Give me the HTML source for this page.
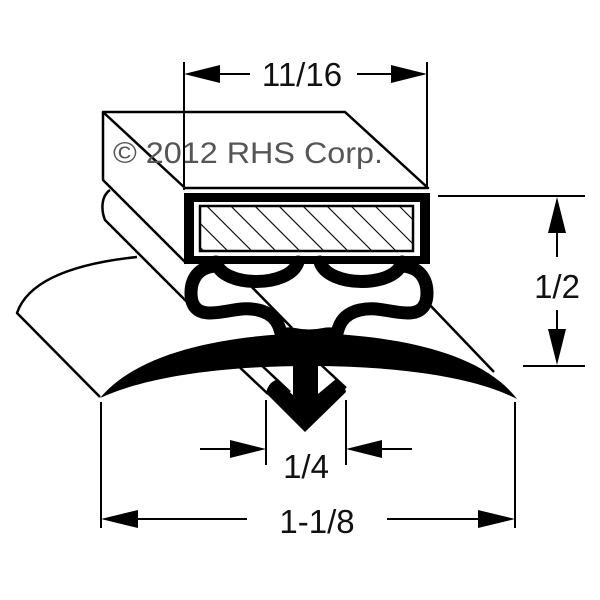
<!DOCTYPE html>
<html><head><style>html,body{margin:0;padding:0;background:#fff}svg{display:block}</style></head>
<body>
<svg width="600" height="600" viewBox="0 0 600 600" xmlns="http://www.w3.org/2000/svg" font-family="Liberation Sans, Arial, sans-serif">
<defs>
<pattern id="h" patternUnits="userSpaceOnUse" width="17" height="17" patternTransform="rotate(-45)">
<rect width="17" height="17" fill="#fff"/><line x1="0" y1="0" x2="0" y2="17" stroke="#000" stroke-width="2.2"/>
</pattern>
</defs>
<g fill="none" stroke="#000" stroke-width="2.5" stroke-linejoin="round">
<path d="M137,257 C90,262 30,275 17,313 L100,397"/>
<path d="M110,190 C101,196 101,210 105,220 L200,315"/>
<path d="M245,280 L292,328"/>
<path d="M427,302 L494,372"/>
<path d="M103,112 L345,112 L428,188 L185,188 Z" fill="#fff"/>
<path d="M103,112 L103,180 L185,262"/>
</g>
<text x="113" y="163" font-size="30" fill="#555" textLength="270" lengthAdjust="spacingAndGlyphs">© 2012 RHS Corp.</text>
<rect x="184" y="193" width="246" height="71" fill="#000"/>
<rect x="194" y="202" width="226" height="54" fill="#fff"/>
<rect x="200" y="206" width="213" height="45" fill="url(#h)" stroke="#000" stroke-width="2.5"/>
<g stroke="#000" stroke-width="2.5" fill="#fff">
<path d="M234,362 L270,396 L293,396 L293,362 Z" stroke="none"/>
<path d="M234,362 L268,394"/>
<path d="M258,362 L290,392"/>
<path d="M318,362 L346,388"/>
</g>
<g fill="none" stroke="#000" stroke-width="13" stroke-linecap="round">
<g id="half">
<path d="M216,262 C222,288 290,288 298,262"/>
<path d="M218,266 C196,266 191,282 191,293 C191,306 197,313 210,313 C228,313 240,306 258,310 C276,314 280,326 282,338"/>
</g>
<use href="#half" transform="translate(618,0) scale(-1,1)"/>
</g>
<path d="M276,342 L276,330 Q286,326 295,328 Q309,331 323,328 Q332,326 342,330 L342,342 Z" fill="#000"/>
<path d="M100,398 C140,350 230,335 310,333 C390,335 480,350 517,399 C470,375 390,366 310,366 C230,366 150,375 100,398 Z" fill="#000"/>
<path d="M293,362 L318,362 L318,394 L336,379 Q344,382 346,392 L305,432 L266,393 Q268,383 276,380 L293,395 Z" fill="#000"/>
<g stroke="#000" stroke-width="2" fill="none">
<line x1="184" y1="62" x2="184" y2="190"/>
<line x1="427" y1="62" x2="427" y2="188"/>
<line x1="215" y1="74" x2="250" y2="74"/>
<line x1="357" y1="74" x2="395" y2="74"/>
<line x1="438" y1="196" x2="585" y2="196"/>
<line x1="523" y1="366" x2="585" y2="366"/>
<line x1="557" y1="230" x2="557" y2="257"/>
<line x1="557" y1="310" x2="557" y2="335"/>
<line x1="266" y1="400" x2="266" y2="465"/>
<line x1="346" y1="400" x2="346" y2="465"/>
<line x1="200" y1="449" x2="235" y2="449"/>
<line x1="378" y1="449" x2="412" y2="449"/>
<line x1="101" y1="402" x2="101" y2="528"/>
<line x1="515" y1="402" x2="515" y2="528"/>
<line x1="130" y1="519" x2="247" y2="519"/>
<line x1="387" y1="519" x2="490" y2="519"/>
</g>
<g fill="#000">
<polygon points="184,74 220,65 220,83"/>
<polygon points="427,74 391,65 391,83"/>
<polygon points="557,197 548,233 566,233"/>
<polygon points="557,365 548,329 566,329"/>
<polygon points="266,449 230,440 230,458"/>
<polygon points="346,449 382,440 382,458"/>
<polygon points="101,519 138,510 138,528"/>
<polygon points="515,519 478,510 478,528"/>
</g>
<g font-size="33" fill="#111" text-anchor="middle">
<text x="302" y="86">11/16</text>
<text x="557" y="298">1/2</text>
<text x="306" y="478">1/4</text>
<text x="317" y="533">1-1/8</text>
</g>
</svg>
</body></html>
